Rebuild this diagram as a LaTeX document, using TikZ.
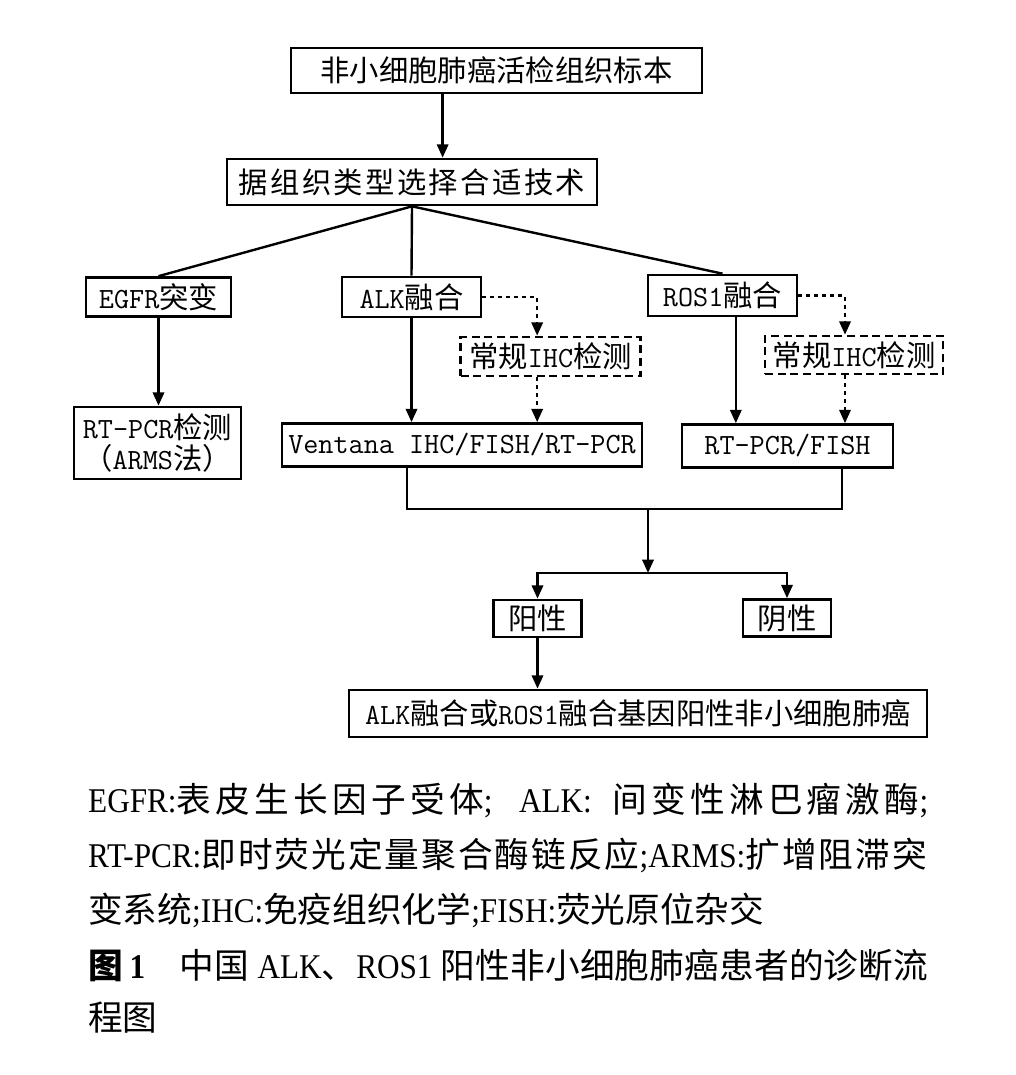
\documentclass[tikz,border=0pt]{standalone}
\usepackage{fontspec}
\setmainfont{Liberation Serif}[FakeStretch=0.9]
\newfontfamily\cjk{Noto Sans CJK SC}
\usetikzlibrary{arrows.meta}
\newXeTeXintercharclass\hanclass
\count255="4E00
\loop
	\XeTeXcharclass\count255=\hanclass
	\ifnum\count255<"9FFF \advance\count255 by 1 \repeat
\XeTeXinterchartoks\hanclass\hanclass={\hskip0pt plus 1pt\relax}
\newcommand{\hanspread}{\XeTeXinterchartokenstate=1\relax}
\newcommand{\mono}[1]{{\ttfamily #1}}
\newcommand{\rmn}[1]{{\rmfamily #1}}

\begin{document}
\begin{tikzpicture}[x=0.75pt,y=-0.75pt,line width=1.8pt,
	box/.style={draw,line width=2pt,inner sep=0pt,align=center,font=\cjk\fontsize{22}{23}\selectfont},
	dbox/.style={box,dash pattern=on 6pt off 3.5pt},
	arr/.style={-{Triangle[length=10pt,width=8.5pt]}},
	dotarr/.style={arr,dash pattern=on 3pt off 3pt},
	note/.style={anchor=west,inner sep=0pt,font=\cjk\fontsize{26}{30}\selectfont\hanspread}]
		\newcommand{\flow}[6][]{\node[box,#1,minimum width=#4*0.75pt,minimum height=#5*0.75pt] (#2) at (#3) {#6};}
		
		\useasboundingbox[fill=white] (0,0) rectangle (1016,1075);
		
		\flow{top}{496.5,70.5}{411}{45}{非小细胞肺癌活检组织标本}
		\flow{tech}{412,182}{370}{46}{\addfontfeature{LetterSpace=8}据组织类型选择合适技术}
		\flow{egfr}{158.5,297}{145}{39}{\mono{EGFR}突变}
		\flow{alk}{411.5,297}{139}{40}{\mono{ALK}融合}
		\flow{ros}{722.5,295.5}{149}{41}{\mono{ROS1}融合}
		\flow[dbox]{ihca}{550.5,356.5}{180}{39}{常规\mono{IHC}检测}
		\flow[dbox]{ihcb}{854,355}{178}{38}{常规\mono{IHC}检测}
		\flow{arms}{157.5,443}{167}{72}{\mono{RT-PCR}检测\\（\mono{ARMS}法）}
		\flow{ventana}{462,445}{360}{43}{\mono{Ventana IHC/FISH/RT-PCR}}
		\flow{rtfish}{787.5,446}{211}{43}{\mono{RT-PCR/FISH}}
		\flow{pos}{537.5,618.5}{88}{37}{阳性}
		\flow{neg}{787,618}{88}{37}{阴性}
		\flow{final}{638,713.5}{578}{47}{\mono{ALK}融合或\mono{ROS1}融合基因阳性非小细胞肺癌}
		
		\coordinate (merge) at (648,509);
		\coordinate (split) at (648,573);
		
		\draw[arr] ([xshift=-40.4pt]top.south) -- ([xshift=-40.4pt]top.south |- tech.north);
		\draw (tech.south) -- (egfr.north);
		\draw (tech.south) -- (alk.north);
		\draw (tech.south) -- (ros.north);
		\draw[arr] (egfr.south) -- (egfr.south |- arms.north);
		\draw[arr] (alk.south) -- (alk.south |- ventana.north);
		\draw[dotarr] (alk.east) -| ([xshift=-10pt]ihca.north);
		\draw[dotarr] ([xshift=-10pt]ihca.south) -- ([xshift=-10pt]ihca.south |- ventana.north);
		\draw[arr] ([xshift=10pt]ros.south) -- ([xshift=10pt]ros.south |- rtfish.north);
		\draw[dotarr] (ros.east) -| ([xshift=-6.75pt]ihcb.north);
		\draw[dotarr] ([xshift=-6.75pt]ihcb.south) -- ([xshift=-6.75pt]ihcb.south |- rtfish.north);
		\draw ([xshift=-41.25pt]ventana.south) |- (merge) -| ([xshift=40.9pt]rtfish.south);
		\draw[arr] (merge) -- (split);
		\draw[arr] (split) -| (pos.north);
		\draw[arr] (split) -| (neg.north);
		\draw[arr] (pos.south) -- (pos.south |- final.north);
		
		\node[note] (n1) at (87,800) {\makebox[630pt][s]{\rmn{EGFR:}表皮生长因子受体\rmn{; ALK: }间变性淋巴瘤激酶\rmn{;}}};
		\node[note] (n2) at (87,855) {\makebox[629pt][s]{\rmn{RT-PCR:}即时荧光定量聚合酶链反应\rmn{;ARMS:}扩增阻滞突}};
		\node[note] (n3) at (87,910) {变系统\rmn{;IHC:}免疫组织化学\rmn{;FISH:}荧光原位杂交};
		\node[note] (n4) at (87,965) {\makebox[630pt][s]{{\bfseries 图\hspace{5pt}\rmn{\bfseries 1}}\quad 中国 \rmn{ALK}、\rmn{ROS1} 阳性非小细胞肺癌患者的诊断流}};
		\node[note] (n5) at (87,1018) {程图};
	\end{tikzpicture}
\end{document}
